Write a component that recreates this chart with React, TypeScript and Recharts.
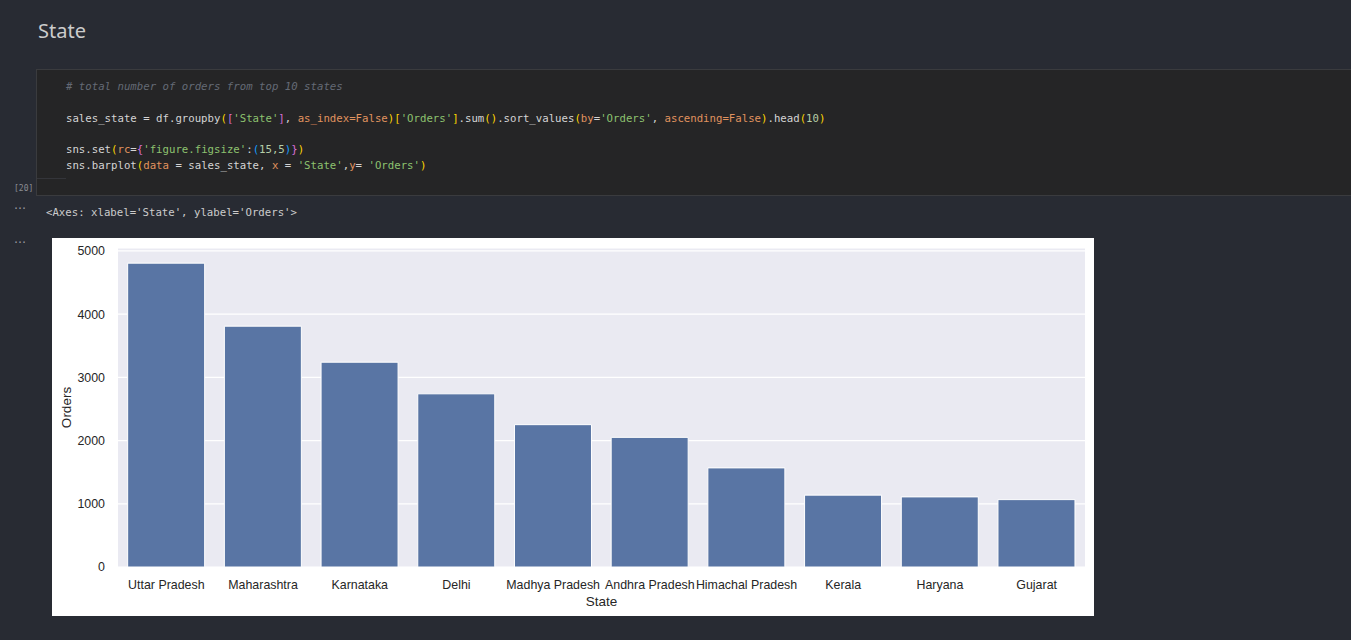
import { Bar, BarChart, CartesianGrid, Label, XAxis, YAxis } from "recharts";

// top 10 states by total orders
const STATES = [
  "Uttar Pradesh",
  "Maharashtra",
  "Karnataka",
  "Delhi",
  "Madhya Pradesh",
  "Andhra Pradesh",
  "Himachal Pradesh",
  "Kerala",
  "Haryana",
  "Gujarat",
];
const ORDERS = [4807, 3810, 3240, 2740, 2252, 2051, 1568, 1137, 1109, 1066];
const Y_TICKS = [0, 1000, 2000, 3000, 4000, 5000];
const Y_MAX = 5047;

const data = STATES.map((state, i) => ({ state, orders: ORDERS[i] }));

// notebook colours
const C = {
  text: "#d4d4d4",
  yellow: "#ffd700",
  purple: "#da70d6",
  blue: "#179fff",
  str: "#8dc26f",
  kw: "#e0935f",
  num: "#b5cea8",
};

type Tok = [string, string];

const CODE: Tok[][] = [
  [
    ["sales_state = df.groupby", C.text],
    ["(", C.yellow],
    ["[", C.purple],
    ["'State'", C.str],
    ["]", C.purple],
    [", ", C.text],
    ["as_index=False", C.kw],
    [")", C.yellow],
    ["[", C.yellow],
    ["'Orders'", C.str],
    ["]", C.yellow],
    [".sum", C.text],
    ["()", C.yellow],
    [".sort_values", C.text],
    ["(", C.yellow],
    ["by", C.kw],
    ["=", C.text],
    ["'Orders'", C.str],
    [", ", C.text],
    ["ascending=False", C.kw],
    [")", C.yellow],
    [".head", C.text],
    ["(", C.yellow],
    ["10", C.num],
    [")", C.yellow],
  ],
  [
    ["sns.set", C.text],
    ["(", C.yellow],
    ["rc", C.kw],
    ["=", C.text],
    ["{", C.purple],
    ["'figure.figsize'", C.str],
    [":", C.text],
    ["(", C.blue],
    ["15,5", C.num],
    [")", C.blue],
    ["}", C.purple],
    [")", C.yellow],
  ],
  [
    ["sns.barplot", C.text],
    ["(", C.yellow],
    ["data", C.kw],
    [" = sales_state, ", C.text],
    ["x", C.kw],
    [" = ", C.text],
    ["'State'", C.str],
    [",", C.text],
    ["y", C.kw],
    ["= ", C.text],
    ["'Orders'", C.str],
    [")", C.yellow],
  ],
];

const MONO = "'DejaVu Sans Mono', 'Liberation Mono', monospace";
const SANS = "'Liberation Sans', Arial, sans-serif";

function CodeLine({ toks, top }: { toks: Tok[]; top: number }) {
  return (
    <div
      style={{
        position: "absolute",
        left: 66,
        top,
        fontFamily: MONO,
        fontSize: 10.7,
        lineHeight: "16px",
        whiteSpace: "pre",
      }}
    >
      {toks.map(([t, c], i) => (
        <span key={i} style={{ color: c }}>
          {t}
        </span>
      ))}
    </div>
  );
}

function StateChart() {
  return (
    <BarChart
      width={1042}
      height={378}
      data={data}
      margin={{ top: 10, right: 9, bottom: 0, left: 0 }}
      barCategoryGap="10%"
      style={{ background: "#fff" }}
    >
      <CartesianGrid
        vertical={false}
        fill="#eaeaf2"
        stroke="#fff"
        strokeWidth={1.2}
      />
      <XAxis
        dataKey="state"
        height={49}
        interval={0}
        tickLine={false}
        axisLine={false}
        tickSize={0}
        tickMargin={13}
        tick={{ fill: "#262626", fontSize: 12.4, fontFamily: SANS }}
      >
        <Label
          content={({ viewBox }: any) => (
            <text
              x={viewBox.x + viewBox.width / 2}
              y={viewBox.y + 34}
              textAnchor="middle"
              dominantBaseline="central"
              fill="#262626"
              fontSize={13.5}
              fontFamily={SANS}
            >
              State
            </text>
          )}
        />
      </XAxis>
      <YAxis
        width={66}
        domain={[0, Y_MAX]}
        ticks={Y_TICKS}
        tickLine={false}
        axisLine={false}
        tickSize={0}
        tickMargin={13}
        tick={{ fill: "#262626", fontSize: 12.4, fontFamily: SANS }}
      >
        <Label
          content={({ viewBox }: any) => {
            const x = viewBox.x + 14;
            const y = viewBox.y + viewBox.height / 2;
            return (
              <text
                x={x}
                y={y}
                transform={`rotate(-90, ${x}, ${y})`}
                textAnchor="middle"
                dominantBaseline="central"
                fill="#262626"
                fontSize={13.5}
                fontFamily={SANS}
              >
                Orders
              </text>
            );
          }}
        />
      </YAxis>
      <Bar
        dataKey="orders"
        fill="#5975a4"
        stroke="#fff"
        strokeWidth={1}
        isAnimationActive={false}
      />
    </BarChart>
  );
}

export default function App() {
  return (
    <div
      style={{
        position: "absolute",
        left: 0,
        top: 0,
        width: 1351,
        height: 640,
        background: "#282b33",
        overflow: "hidden",
      }}
    >
      <div
        style={{
          position: "absolute",
          left: 38,
          top: 17,
          fontFamily: "'Noto Sans', 'Open Sans', sans-serif",
          fontSize: 20,
          lineHeight: "28px",
          color: "#cccccc",
        }}
      >
        State
      </div>

      {/* code cell */}
      <div
        style={{
          position: "absolute",
          left: 36,
          top: 69,
          width: 1320,
          height: 127,
          background: "#252526",
          border: "1px solid #3a3b3e",
          boxSizing: "border-box",
        }}
      />
      <div
        style={{
          position: "absolute",
          left: 37,
          top: 178,
          width: 29,
          height: 1,
          background: "#34353a",
        }}
      />
      <div
        style={{
          position: "absolute",
          left: 66,
          top: 79,
          fontFamily: MONO,
          fontSize: 10.7,
          lineHeight: "16px",
          whiteSpace: "pre",
          color: "#646a75",
          fontStyle: "italic",
        }}
      >
        # total number of orders from top 10 states
      </div>
      <CodeLine toks={CODE[0]} top={111} />
      <CodeLine toks={CODE[1]} top={142} />
      <CodeLine toks={CODE[2]} top={158} />

      <div
        style={{
          position: "absolute",
          left: 14,
          top: 183,
          fontFamily: MONO,
          fontSize: 8,
          lineHeight: "12px",
          color: "#8a8d93",
        }}
      >
        [20]
      </div>
      <div
        style={{
          position: "absolute",
          left: 13,
          top: 203,
          fontFamily: MONO,
          fontSize: 10,
          lineHeight: "12px",
          color: "#9a9ca2",
          letterSpacing: -2,
        }}
      >
        ···
      </div>
      <div
        style={{
          position: "absolute",
          left: 46,
          top: 205,
          fontFamily: MONO,
          fontSize: 10.7,
          lineHeight: "16px",
          color: "#cccccc",
          whiteSpace: "pre",
        }}
      >
        {"<Axes: xlabel='State', ylabel='Orders'>"}
      </div>
      <div
        style={{
          position: "absolute",
          left: 13,
          top: 237,
          fontFamily: MONO,
          fontSize: 10,
          lineHeight: "12px",
          color: "#9a9ca2",
          letterSpacing: -2,
        }}
      >
        ···
      </div>

      <div style={{ position: "absolute", left: 52, top: 238 }}>
        <StateChart />
      </div>
    </div>
  );
}
